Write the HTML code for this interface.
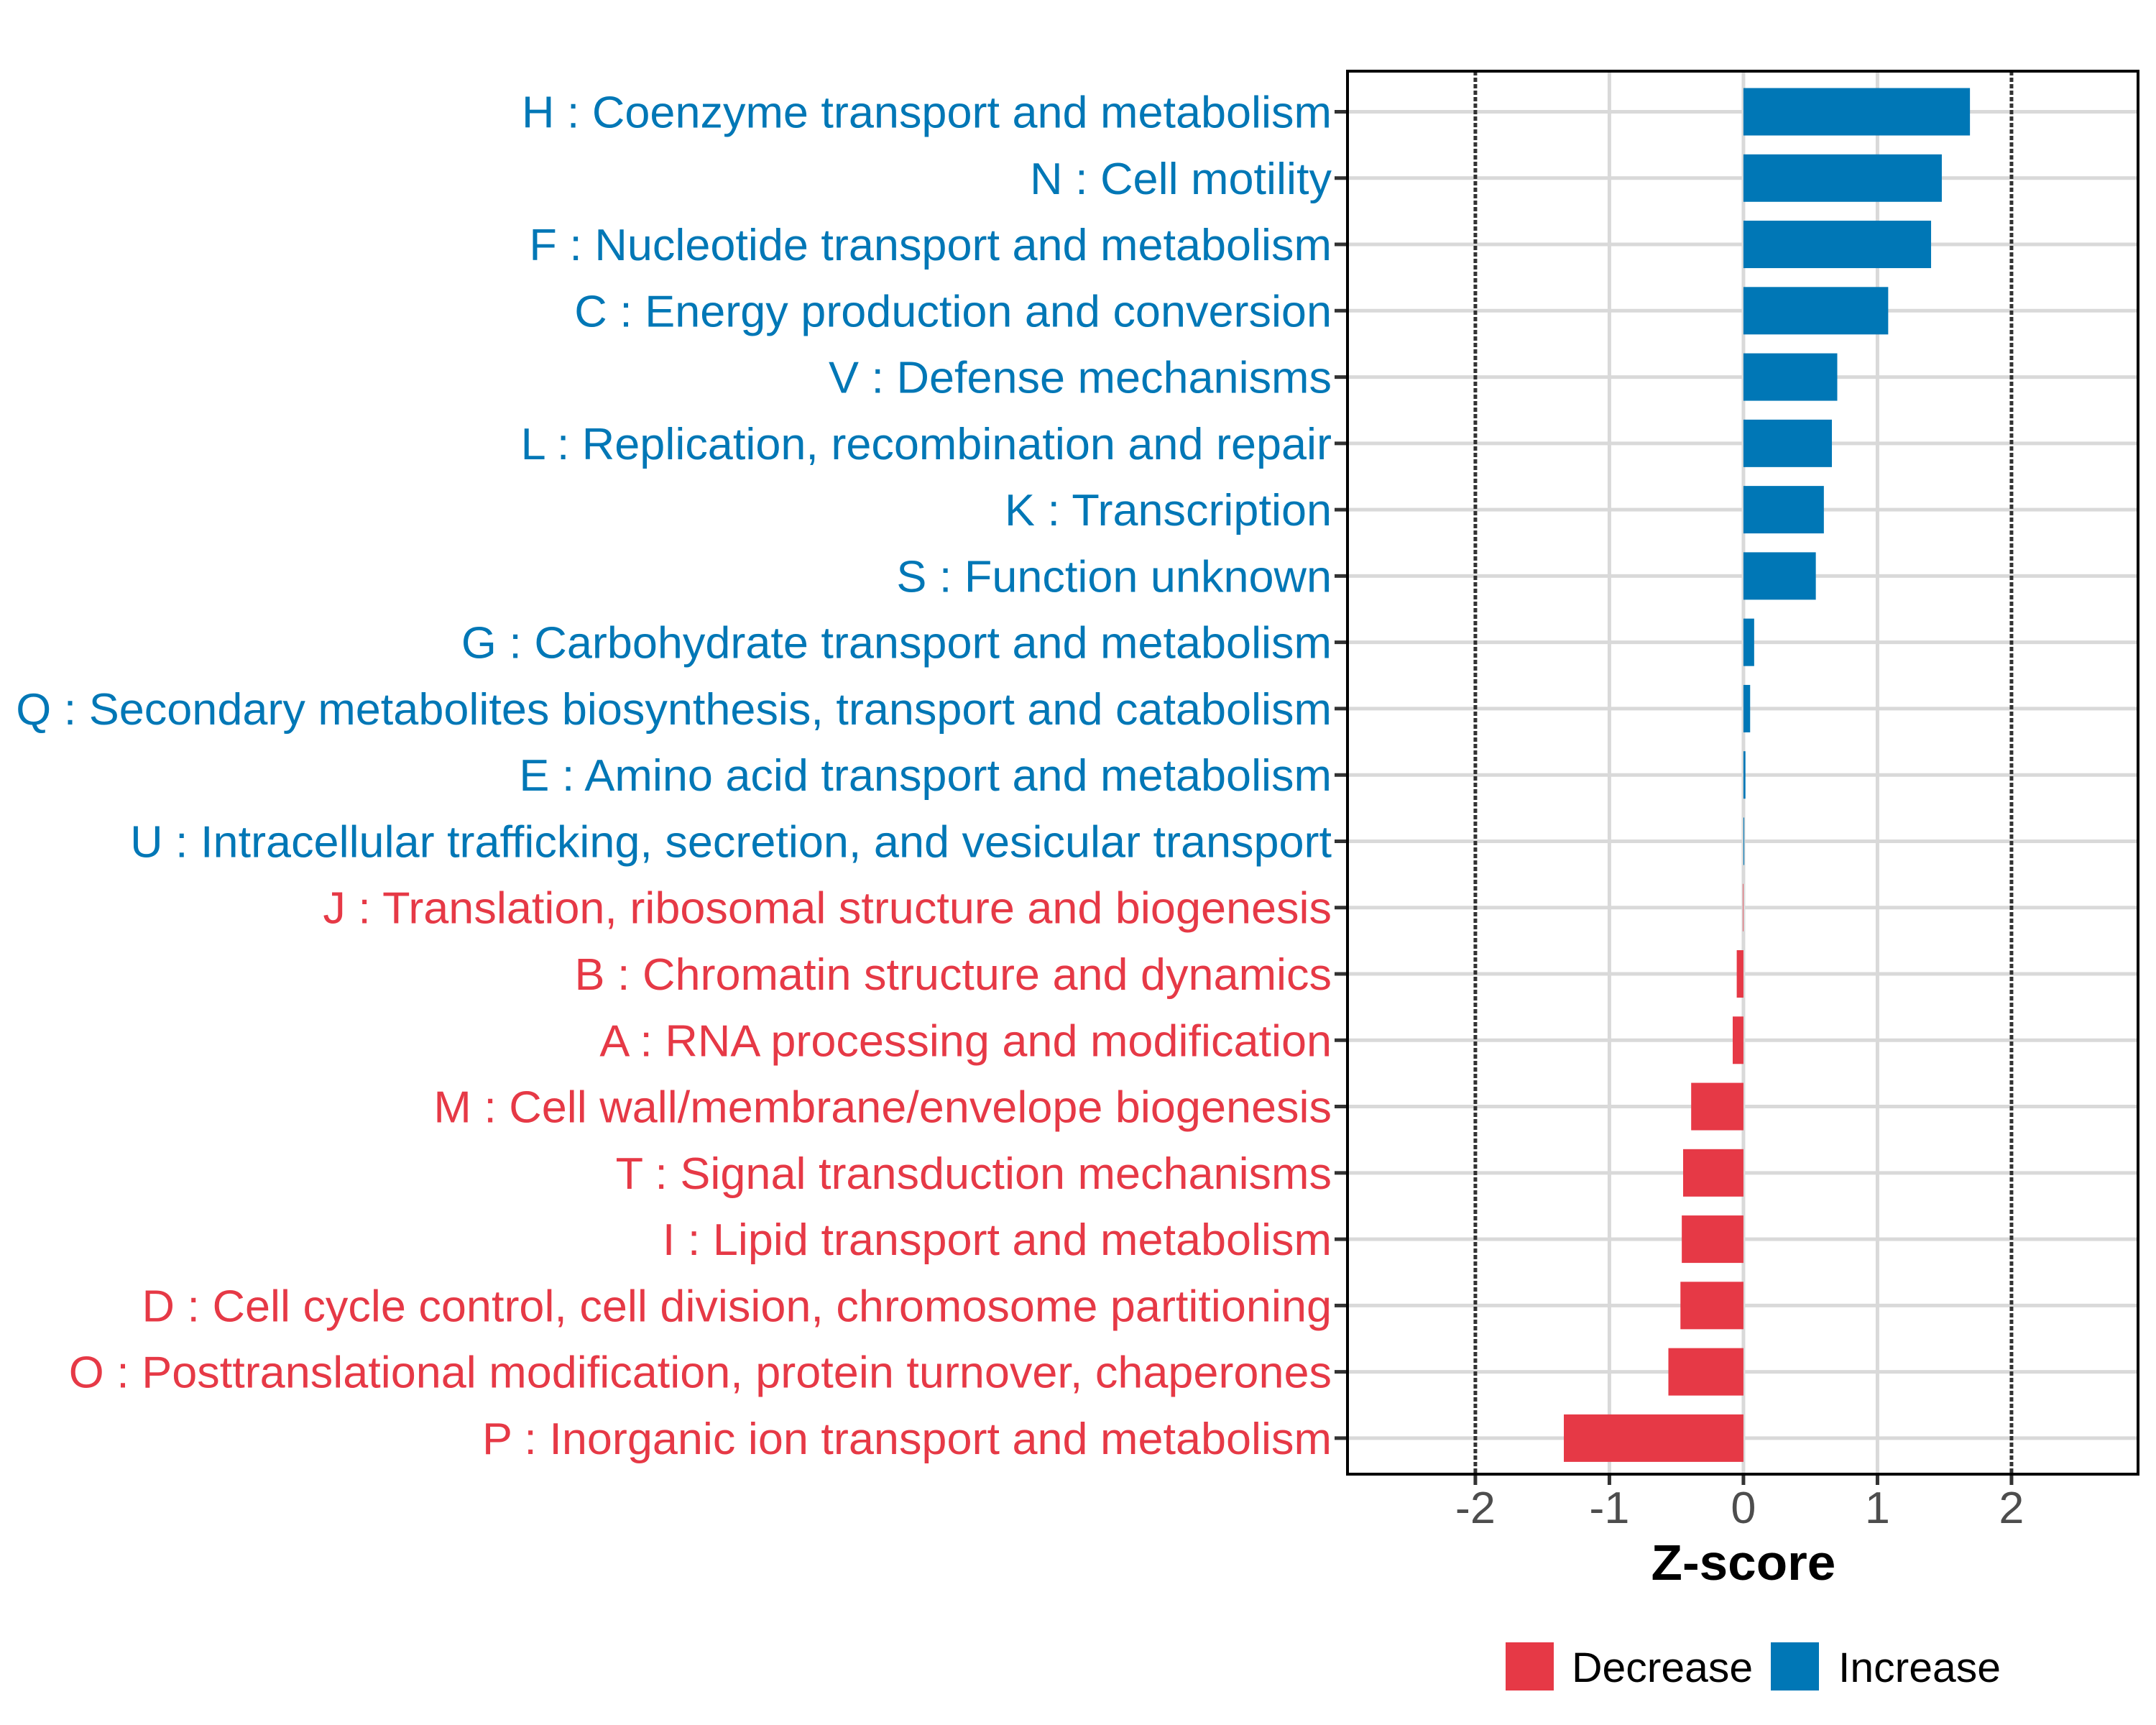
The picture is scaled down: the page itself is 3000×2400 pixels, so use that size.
<!DOCTYPE html>
<html><head><meta charset="utf-8"><style>
html,body{margin:0;padding:0;background:#fff;}
svg{display:block;font-family:"Liberation Sans",Arial,sans-serif;}
</style></head><body>
<svg id="chart" width="3000" height="2400" viewBox="0 0 3000 2400" xmlns="http://www.w3.org/2000/svg">
<rect width="3000" height="2400" fill="#fff"/>
<g id="grid"></g>
<g id="bars"></g>
<g id="labels"></g>
<g id="xaxis"></g>
<rect x="1875" y="99" width="1100" height="1952" fill="none" stroke="#000" stroke-width="4"/>
<text id="xtitle" x="2426" y="2198" font-size="70" font-weight="bold" text-anchor="middle" fill="#000">Z-score</text>
<g>
<rect x="2095" y="2285" width="67" height="67" fill="#E63946"/>
<text class="lt" x="2187" y="2340" font-size="58" fill="#000">Decrease</text>
<rect x="2464" y="2285" width="67" height="67" fill="#0077B6"/>
<text class="lt" x="2558" y="2340" font-size="58" fill="#000">Increase</text>
</g>
</svg>
<script>
const categories = ["H : Coenzyme transport and metabolism","N : Cell motility","F : Nucleotide transport and metabolism","C : Energy production and conversion","V : Defense mechanisms","L : Replication, recombination and repair","K : Transcription","S : Function unknown","G : Carbohydrate transport and metabolism","Q : Secondary metabolites biosynthesis, transport and catabolism","E : Amino acid transport and metabolism","U : Intracellular trafficking, secretion, and vesicular transport","J : Translation, ribosomal structure and biogenesis","B : Chromatin structure and dynamics","A : RNA processing and modification","M : Cell wall/membrane/envelope biogenesis","T : Signal transduction mechanisms","I : Lipid transport and metabolism","D : Cell cycle control, cell division, chromosome partitioning","O : Posttranslational modification, protein turnover, chaperones","P : Inorganic ion transport and metabolism"];
const zscores = [1.69,1.48,1.40,1.08,0.70,0.66,0.60,0.54,0.08,0.05,0.015,0.006,-0.004,-0.05,-0.08,-0.39,-0.45,-0.46,-0.47,-0.56,-1.34];
const xTicks = [-2,-1,0,1,2];
const xTickLabels = ["-2","-1","0","1","2"];
const refLines = [-2,2];

const NS="http://www.w3.org/2000/svg";
const X0=1875,X1=2975,D0=-2.954,D1=2.944;
const x=v=>X0+(v-D0)/(D1-D0)*(X1-X0);
const Y0=155.5,STEP=92.27;
const y=i=>Y0+i*STEP;
const BLUE="#0077B6",RED="#E63946";
function mk(tag,attrs,parent){const e=document.createElementNS(NS,tag);for(const k in attrs)e.setAttribute(k,attrs[k]);parent.appendChild(e);return e;}
const grid=document.getElementById('grid'),bars=document.getElementById('bars'),labels=document.getElementById('labels'),xaxis=document.getElementById('xaxis');
categories.forEach((c,i)=>{
  const l=mk('line',{x1:X0,x2:X1,y1:y(i),y2:y(i),stroke:'#d9d9d9','stroke-width':5},grid);
  
  
});
xTicks.forEach(t=>{
  if(refLines.includes(t))return;
  const l=mk('line',{x1:x(t),x2:x(t),y1:99,y2:2051,stroke:'#d9d9d9','stroke-width':5},grid);
  
  
});
refLines.forEach(t=>{
  const l=mk('line',{x1:x(t),x2:x(t),y1:99,y2:2051,stroke:'#333','stroke-width':5,'stroke-dasharray':'6 3'},grid);
  
  
});
const BH=66;
zscores.forEach((v,i)=>{
  const a=x(0),b=x(v);
  const r=mk('rect',{x:Math.min(a,b),y:y(i)-BH/2,width:Math.max(Math.abs(b-a),0.5),height:BH,fill:v>=0?BLUE:RED},bars);
  
  
});
const lab=[];
categories.forEach((c,i)=>{
  const tk=mk('line',{x1:1857,x2:1875,y1:y(i),y2:y(i),stroke:'#333','stroke-width':5},labels);
  
  
  const t=mk('text',{x:0,y:y(i)+22,'font-size':62,'text-anchor':'end',fill:zscores[i]>=0?BLUE:RED},labels);
  t.textContent=c;
  
  
  lab.push(t);
});
xTicks.forEach((t,i)=>{
  const tk=mk('line',{x1:x(t),x2:x(t),y1:2051,y2:2066,stroke:'#333','stroke-width':5},xaxis);
  
  
  const tx=mk('text',{x:0,y:2119,'font-size':62,'text-anchor':'middle',fill:'#4d4d4d'},xaxis);
  tx.textContent=xTickLabels[i];
  
  
  tx.dataset.cx=x(t);
});
const qi=9;
const w=lab[qi].getComputedTextLength();
const k=w>0?1831/w:0.88;
lab.forEach(t=>{t.setAttribute('transform','translate(1853,0) scale('+k+',1)');});
xaxis.querySelectorAll('text').forEach(t=>{t.setAttribute('transform','translate('+t.dataset.cx+',0) scale('+k+',1)');});
document.querySelectorAll('.lt').forEach(t=>{const x0=+t.getAttribute('x');t.setAttribute('x',0);t.setAttribute('transform','translate('+x0+',0) scale('+k+',1)');});
const xt=document.getElementById('xtitle');xt.setAttribute('x',0);xt.setAttribute('transform','translate('+x(0)+',0) scale('+k+',1)');
</script>
</body></html>
